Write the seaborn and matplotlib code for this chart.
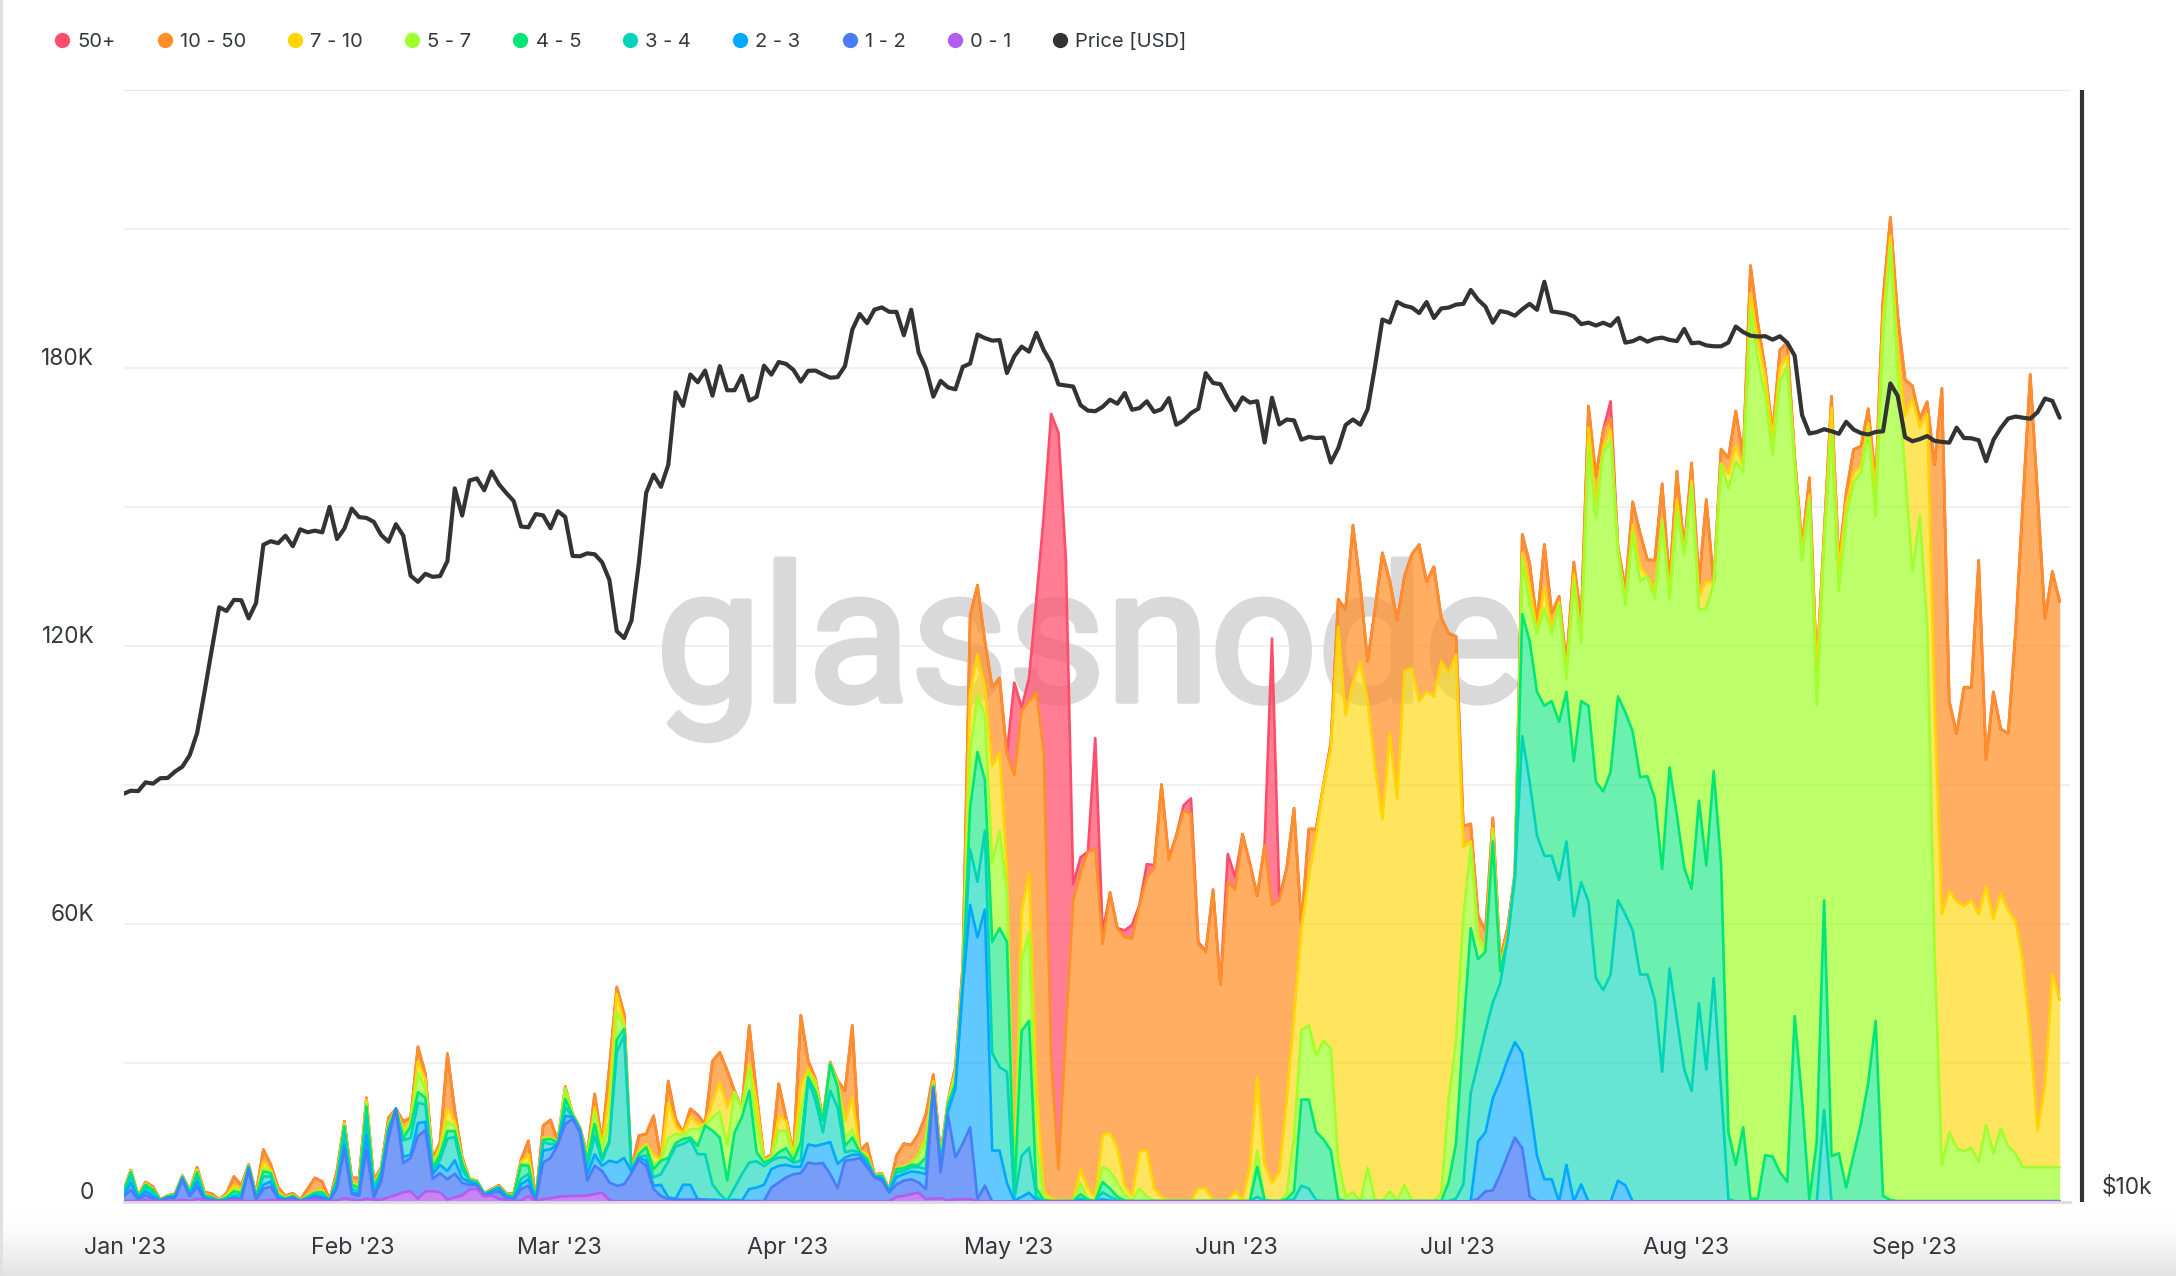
import numpy as np
import pandas as pd
import matplotlib
matplotlib.use("Agg")
import matplotlib.pyplot as plt
import matplotlib.dates as mdates
import matplotlib.patheffects as pe
from matplotlib.lines import Line2D
from matplotlib.transforms import ScaledTranslation
import seaborn as sns

# ---- data: stack tops in thousands (K), one value per day from 1 Jan 2023 ----
START_DATE = "2023-01-01"
LABELS = ["50+", "10 - 50", "7 - 10", "5 - 7", "4 - 5", "3 - 4", "2 - 3", "1 - 2", "0 - 1", "Price [USD]"]
COLORS = ["#ff4d6a", "#ff8f26", "#ffd500", "#a0ff2c", "#00e676", "#00d4b8", "#00a8ff", "#4a7cf7", "#b35cf0", "#333333"]
FILL_ALPHAS = [0.72, 0.72, 0.63, 0.70, 0.58, 0.60, 0.62, 0.75, 0.75]
MONTHS = ["Jan '23", "Feb '23", "Mar '23", "Apr '23", "May '23", "Jun '23", "Jul '23", "Aug '23", "Sep '23"]
MONTH_STARTS = ["2023-01-01", "2023-02-01", "2023-03-01", "2023-04-01", "2023-05-01", "2023-06-01", "2023-07-01", "2023-08-01", "2023-09-01"]
LEFT_TICKS = [0, 60, 120, 180]
LEFT_LABELS = ["0", "60K", "120K", "180K"]
GRID_TICKS = [30, 60, 90, 120, 150, 180, 210, 240]

top_0_1 = [0.1,0.1,0.1,0.4,0.1,0.1,0.1,0.1,0.4,0.1,
 0.6,0.3,0.1,0.1,0.1,0.4,0.2,0.1,0.1,0.2,
 0.4,0.2,0.1,0.2,0.1,0.2,0.4,0.2,0.1,0.2,
 0.7,0.4,0.2,0.6,0.4,0.4,0.9,1.4,2.0,2.2,
 0.6,2.2,2.2,2.0,0.4,0.9,1.3,2.6,2.7,1.1,
 1.3,0.6,0.3,0.2,
 0.2,1.2,0.1,0.5,0.7,1.0,1.1,1.2,1.2,1.3,1.6,1.9,0.3] + [0.0]*38 + [
 1.0,1.2,1.6,1.9,0.5,0.6,0.7,0.2,0.5,
 0.5,0.5,0.1] + [0.0]*147

top_1_2 = [1.0,2.5,0.4,1.4,0.6,0.1,0.7,0.7,4.7,1.1,
 3.2,0.4,0.3,0.1,0.2,0.6,0.4,6.8,0.3,2.7,
 3.2,0.6,0.3,0.7,0.1,0.4,0.9,0.6,0.1,2.9,
 11.2,1.6,1.2,11.2,0.9,4.3,13.7,20.0,8.3,9.4,
 14.1,15.4,4.9,6.1,4.8,6.0,4.0,3.6,3.5,1.3,
 1.8,2.2,0.7,0.4,
 2.7,3.4,0.1,8.4,9.4,12.3,16.7,17.8,14.9,4.5,7.7,6.6,4.1,3.4,3.7,6.1,9.0,7.7,2.7,1.2,
 0.5,0.4,0.4,0.4,0.4,0.4,0.1,0.1,0,0.1,0.1,0.1,0.1,0.1,3.0,4.1,5.2,5.9,6.1,8.4,
 8.1,8.3,5.9,2.9,8.8,9.0,9.4,7.4,5.2,4.5,1.9,3.7,4.5,4.8,4.1,2.7,24.3,6.3,18.5,9.5,
 12.5,16,0.5,3.4] + [0.0]*66 + [0.6,2.2,2.4,5.8,9.9,13.8,11.5,1.1] + [0.0]*72

top_2_3 = [1.3,4.0,0.7,2.2,1.2,0.2,0.9,1.0,4.9,1.4,
 4.3,0.7,0.4,0.1,0.4,0.9,0.7,7.2,0.6,3.6,
 4.3,0.9,0.4,0.9,0.1,0.6,1.3,1.0,0.2,3.6,
 12.3,2.0,1.6,14.4,1.4,5.4,14.8,20.0,9.6,10.1,
 16.9,17.2,5.9,7.9,6.6,8.9,5.0,4.2,3.7,1.4,
 2.2,2.9,1.1,0.6,
 3.7,4.8,0.2,11.0,11.3,12.4,18.5,18.2,15.3,5.9,10.2,7.7,8.8,8.4,9.4,6.5,9.5,8.8,3.4,3.6,
 0.9,0.6,3.6,3.6,0.5,0.4,0.4,0.3,0.1,0.4,0.2,2.7,3.0,3.6,7.0,7.7,7.9,7.5,7.5,12.3,
 12.0,12.4,12.8,8.1,9.5,10.1,10.1,8.1,5.3,5.0,2.2,5.3,5.9,6.5,6.3,5.9,24.5,7.2,19.5,24.3,
 46,64,57,63,11,11,4,0.2,1,1.9,0.3] + [0.0]*5 + [0.3,0,0,0.5,0.2] + [0.0]*48 + [0.1,
 13,14.9,22.3,26,30.6,34.4,32,21.3,9.9,4.8,4.8,0,7.9,0,3.7] + [0.0]*4 + [4.5,3.5] + [0.0]*59

top_3_4 = [1.6,5.4,0.9,3.0,1.9,0.2,1.0,1.2,5.2,1.8,
 5.4,1.0,0.7,0.2,0.6,1.4,1.3,7.5,0.9,5.4,
 5.4,1.2,0.6,1.0,0.2,0.9,1.7,1.6,0.2,4.3,
 14.8,2.7,2.2,18.0,2.2,6.1,15.5,20.0,13.2,13.7,
 21.3,20.9,6.5,9.0,13.6,13.9,6.8,4.5,4.0,1.6,
 2.3,3.0,1.3,0.9,
 4.9,5.9,0.3,12.8,12.4,12.5,20.3,18.4,15.5,7.4,14.2,8.8,12.8,32.2,35.8,6.6,9.7,9.9,5.2,5.9,
 8.7,11.9,12.4,13.3,10.2,10.2,3.7,1.6,0.1,3.0,5.9,8.4,8.7,7.6,8.8,9.5,9.5,8.4,8.8,26.3,
 21.8,14.9,23.9,20.3,10.6,11.0,10.6,8.8,5.4,5.4,2.3,6.3,6.6,7.4,7.4,7.0,24.7,7.9,20.2,24.9,
 47,76,69,80,32,29,28,0.5,9.8,11.6,1,0.2] + [0.1]*4 + [0.6,0.2,0.1,2,1,0.3] + [0.1]*18 + [1,0.1] + [0.1]*3 + [0.5,3.4,2.8,0.3] + [0.1]*18 + [0.6,3.7,
 23.4,30,36.8,43,47,56.5,70,100.4,90.6,79,74.6,74.6,69.4,77.7,61.6,68.9,64.7,48.2,45.6,49,65,62,58.5,49,49,43.5,28,50.3,39.4,28.5,23.9,42.8,28.5,48.2,24.4,
 0.5] + [0.0]*12 + [19.7] + [0.0]*32

top_4_5 = [1.9,6.3,1.0,3.6,2.5,0.3,1.1,1.4,5.3,2.0,
 6.3,1.3,0.9,0.2,0.9,2.2,1.8,7.6,1.1,6.5,
 6.1,1.4,0.6,1.2,0.2,1.0,1.9,2.0,0.3,5.0,
 16.2,3.6,2.9,20.5,2.9,6.6,16.2,20.0,13.7,16.2,
 23.6,22.4,7.2,10.1,15.2,15.2,8.3,4.6,4.3,1.7,
 2.4,3.1,1.4,1.2,
 7.9,7.7,0.4,13.3,13.5,12.7,22.1,18.6,15.7,8.8,16.7,9.5,13.1,34.9,37.3,6.8,10.2,11.7,7.0,8.8,
 9.4,12.6,13.5,13.8,12.0,16.4,15.3,13.8,4.5,14.9,18.2,23.9,10.6,8.4,9.1,10.6,11.5,8.8,12.8,26.8,
 23.6,17.4,29.7,24.7,12.0,13.8,10.7,9.2,5.5,5.6,2.4,7.0,7.2,7.9,7.9,9.5,24.9,8.5,20.9,25.6,
 47.5,85,97,91,56,59,56,1,36.8,39,2.8,0.3] + [0.1]*4 + [1.6,0.4,0.1,4.2,2.8,1,0.2] + [0.1]*17 + [
 7.5,0.3,0.1,0.1,0.5,2.2,22,22,15,13.4,11,0.5] + [0.1]*14 + [
 4.2,12.5,36.8,59,52.3,53.9,77.7,49.7,56.5,70.2,
 126.8,121,110,107,108,103.5,110,95,108,107,
 90.6,88.5,92.7,109,105.6,101.4,91.6,91.8,87,71.8,
 93.7,83.4,72,67.5,86.5,72.5,92.9,73,15,7.9,
 16,0.6,0.6,10,9.7,6.3,4.2,40,22,0.4,
 13,65,9.8,10.4,3,10,16.8,25.7,39,1.2,0.3] + [0.1]*23

top_5_7 = [2.0,6.5,1.1,3.7,2.6,0.3,1.2,1.4,5.4,2.2,
 6.6,1.4,0.9,0.2,1.1,2.7,2.2,7.7,1.2,7.2,
 6.5,1.7,0.7,1.2,0.2,1.2,2.0,2.2,0.3,5.2,
 16.6,3.7,3.2,21.3,3.2,6.8,16.6,20.0,14.8,16.9,
 27.8,24.5,7.8,11.2,17.3,16.2,8.7,4.6,4.4,1.7,
 2.5,3.2,1.5,1.3,
 8.1,8.3,0.4,13.5,13.6,12.8,24.3,18.7,15.8,9.4,19.3,11.3,17.3,40.9,37.6,6.8,10.7,12.0,8.1,8.9,
 13.7,14.6,14.4,15.6,15.6,16.5,18.2,19.3,12.0,23.6,20.2,29.0,16.6,8.7,9.4,15.3,15.3,9.4,19.5,27.9,
 25.0,17.6,29.8,25.2,13.8,15.6,10.8,9.5,5.6,5.8,2.5,7.1,7.4,8.2,9.9,13.1,25.2,9.0,21.3,26.7,
 48,97,109,105,73,80,67,1.5,52,58,13,1] + [0.1]*4 + [4,0.6,0.1,7.5,6.6,4,1.6,0.1,2.8,1,0.2] + [0.1]*13 + [
 11,0.3,0.1,0.1,1.6,14,37,38,31.5,34.7,33,8.7,1,2,0.1,7.3,0.3,0.1,2.2,0.1,3.5,0.2,0.1,0.1,0.1,1.7,
 22,34.7,61.6,76.6,57,54,79.7,50.3,56.5,70.5,
 138.7,129,122.6,128,122.6,128.9,112.8,134,120.6,163,
 147.5,161.6,164.5,140,128.8,144.3,133.8,134.9,130.2,146.8,
 129.9,149,139.6,154.7,127.7,128,133.5,159,153.9,159.8,
 157.4,192.6,181.8,173.8,161.2,177,180.3,158.7,138.2,151.5,
 107.2,141.4,166.6,131.7,147.9,155.1,157.3,166.6,147.9,186.8,
 206.3,178.9,157.3,136,148,124,54,7.9,15,11.6,
 10.8,11.6,8.6,16.5,10.4,15.7,11.9,10.4,7.4,7.4,7.4,7.4,7.4,7.4]

top_7_10 = [2.2,6.6,1.2,3.9,2.7,0.3,1.2,1.5,5.5,2.3,
 6.9,1.6,1.1,0.3,1.4,3.5,2.6,7.8,1.4,8.7,
 6.8,2.0,0.9,1.4,0.3,1.4,2.3,2.4,0.3,5.3,
 16.9,4.0,3.5,22.0,3.6,7.1,16.9,20.0,15.5,17.4,
 30.3,26.3,8.3,11.9,20.0,17.3,9.0,4.8,4.5,1.7,
 2.5,3.2,1.6,1.4,
 8.5,10.2,0.4,13.8,13.8,13.0,24.5,18.8,15.9,9.8,20.3,12.0,23.1,44.8,38.4,6.9,11.0,12.4,10.2,9.0,
 21.4,16.4,14.7,18.2,16.7,16.6,21.6,25.7,20.3,23.7,20.3,29.7,21.6,8.9,9.7,18.3,17.4,9.8,25.2,28.6,
 26.0,17.7,29.9,25.7,17.4,22.5,10.9,10.2,5.6,5.9,2.5,7.3,7.6,8.4,10.2,13.8,26.0,9.5,21.5,28.1,
 49,110,118,111,94,97,72,2,62.6,70.8,25,2.2,0.7,0.2,0.1,0.2,6.9,2.8,1,14.3,14.8,11.6,3.4,1.3,10.8,11,2.8,1,
 0.2,0.2,0.2,0.2,2.8,2.8,0.3,0.2,0.2,2.2,0.3,7.5,
 26.8,8,4,6.3,21.6,40,59,70,79,90,97.8,124,105,112,116.5,108,94,82.5,101,87,
 114.6,115,108,110,109,116.6,114,118,76.6,77.7,57.5,54,80.5,50.8,57.5,70.6,
 140,133,123,132.5,123.7,129.4,114,135.5,121,167,
 151,163,166.6,140.5,129.5,146,137,135,132,147.2,
 131.5,151.5,140,155.5,130.6,133.9,133.5,159.4,157,163,
 159,196,186,178,164.5,180,182.5,160,140,152.6,
 114,142.5,171.3,136,150.4,157.3,158.7,168,153,190,
 208.4,183.2,169.5,173.3,167,170,108,62,67,64.7,
 63.8,65,62,68,61,66.5,62.8,60.5,51.6,36,15.3,25,49,43.5]

top_10_50 = [2.4,6.8,1.3,4.2,3.2,0.4,1.3,1.7,5.6,2.5,
 7.4,2.0,1.7,0.4,1.8,5.4,3.5,8.0,1.7,11.2,
 8.0,3.0,1.2,1.8,0.4,2.7,5.1,4.3,0.4,6.7,
 17.3,5.1,5.1,22.4,4.5,7.4,18.1,20.0,17.3,18.1,
 33.4,27.6,9.2,12.8,31.9,19.7,9.6,4.9,4.5,1.8,
 2.7,3.5,1.8,1.7,
 9.0,13.1,0.5,16.4,17.6,13.1,24.8,18.9,16.0,10.2,23.2,12.8,29.0,46.3,40.5,7.0,14.2,14.6,18.5,9.2,
 26.0,17.8,14.9,20.0,18.7,16.7,30.3,32.2,28.3,23.9,20.3,38.0,23.2,9.2,10.1,25.4,18.2,10.2,40.2,30.4,
 26.5,17.8,30.1,26.1,23.9,38.0,11.0,12.5,5.8,6.1,2.7,9.9,12.5,12.2,14.6,18.9,27.4,10.2,21.8,29.0,
 51,126.5,133,121,111,113,96.6,92,106,108,110,97,31,6.9,36.8,65,71,75.5,76,55.6,
 66.7,59,57,56.7,64,70,72,90,73.7,79,84.3,83.7,55.6,53.8,67.3,46.8,69,67.3,79.3,73,
 66,77,64,65,72,84.9,59.5,80.4,80.4,90,99,130,127.7,146,133,116.5,128,140,134,125.5,
 135,139.7,141.8,133.8,137,126,122.6,122,81,81.5,61.6,58.5,82.8,52.3,59,71,
 144,137.8,124.8,141.8,127,130.6,116,138,125.5,171.7,
 156.5,166.6,169,141.4,132,151,144.3,138.5,138.4,154.9,
 133.5,157.6,140.7,159.4,133.5,151.5,133.5,162.4,160.5,170.6,
 160.8,202,189.7,179.6,165.9,183.8,185.4,160.9,141.4,156.2,
 114.7,144.3,173.8,137.8,152.9,162.3,163,171.1,155.1,194.7,
 212.4,191.1,177.4,176,169,172.6,159,175.5,108,101,
 111,111,138.4,95.4,110,102,101,123,151,178.5,152.5,125.8,136,129.5]

band_50_plus = [0.0]*121 + [20,0.6,5,20,51,139,159,102,3.5,3.3,0,24,2.4,0,0,1.5,3,0,2.8,0.6,0,0.5,0,1.2,3.3,0.3,0.3,0,0,6,2.7,0,0,0,0,57.5,0.5] + [0.0]*44 + [3.7] + [0.0]*61

price_usd = [16625,16688,16680,16863,16836,16951,16955,17091,17196,17446,17934,18869,19909,20976,20880,21169,21161,20688,21086,22676,22777,22720,22934,22636,23117,23032,23078,23031,23774,22840,23139,
 23723,23471,23449,23332,22955,22761,23264,22939,21819,21651,21870,21788,21808,22220,24327,23517,24569,24631,24271,24844,24450,24188,23947,23198,23175,23561,23522,23147,
 23646,23475,22362,22354,22435,22409,22190,21705,20363,20187,20632,22163,24197,24746,24375,25052,27423,26965,28038,27767,28175,27307,28333,27493,27494,27994,27139,27268,28348,28033,28478,
 28411,28200,27790,28168,28175,28044,27926,27948,28333,29653,30235,29892,30399,30485,30318,30315,29445,30397,28822,28245,27276,27817,27591,27525,28307,28423,29473,29340,29248,29268,
 28091,28680,29031,28848,29534,28904,28454,27694,27658,27621,26987,26804,26784,26931,27172,27036,27398,26833,26889,27118,26760,26851,27225,26334,26476,26719,26868,28085,27745,27702,27219,
 26819,27249,27075,27119,25760,27238,26345,26508,26480,25851,25940,25902,25918,25124,25576,26327,26510,26336,26851,28327,30027,29912,30695,30548,30480,30271,30689,30086,30445,30477,
 30590,30620,31156,30777,30514,29909,30346,30292,30171,30414,30620,30392,31476,30334,30295,30249,30145,29857,29912,29803,29908,29793,30083,29176,29228,29354,29210,29319,29357,29275,29230,
 29676,29152,29179,29075,29043,29041,29180,29766,29561,29429,29397,29412,29283,29408,29170,28701,26664,26049,26096,26189,26124,26040,26432,26180,26063,26017,26101,26120,27727,27297,25931,
 25800,25868,25969,25813,25779,25753,26241,25905,25895,25832,25163,25844,26227,26539,26608,26568,26534,26754,27211,27132,26567]

# ---- checks ----
names = ["top_0_1", "top_1_2", "top_2_3", "top_3_4", "top_4_5", "top_5_7", "top_7_10", "top_10_50", "band_50_plus", "price_usd"]
lens = {n: len(globals()[n]) for n in names}
if len(set(lens.values())) != 1:
    raise ValueError(str(lens))

dates = pd.date_range(START_DATE, periods=len(price_usd))
stack = np.array([top_0_1, top_1_2, top_2_3, top_3_4, top_4_5, top_5_7, top_7_10, top_10_50], dtype=float)
stack = np.maximum.accumulate(stack, axis=0)
tops = np.vstack([stack, stack[-1] + np.array(band_50_plus, dtype=float)])  # bottom -> top

# ---- figure ----
sns.set_theme(style="white")
plt.rcParams["font.family"] = ["Inter", "DejaVu Sans"]
W, H = 2176, 1276
fig = plt.figure(figsize=(W / 100, H / 100), dpi=100, facecolor="white")

# page background: soft grey fade below the plot, thin rule at the left edge
bg = fig.add_axes([0, 0, 1, 1], zorder=-5)
grad = np.ones((H, W))
row = np.arange(H)
grad[row >= 1205, :] = (1 - 0.115 * ((row[row >= 1205] - 1205) / (H - 1205)) ** 1.6)[:, None]
grad[:, :3] = 0.88
bg.imshow(grad, cmap="gray", vmin=0, vmax=1, aspect="auto", extent=(0, 1, 0, 1), interpolation="nearest")
bg.axis("off")

L, R, T, B = 123.5, 2070, 89.5, 1201.5
ax = fig.add_axes([L / W, (H - B) / H, (R - L) / W, (B - T) / H], zorder=1)
ax.patch.set_alpha(0)
x0 = mdates.date2num(dates[0])
ax.set_xlim(x0, x0 + 264.4)
ax.set_ylim(0, 240)

for g in GRID_TICKS:
    ax.axhline(g, color="#e6e6e6" if g == 240 else "#f0f0f0", lw=1.5, zorder=0.5)

ax.text(1090, H - 701, "glassnode", transform=None, fontsize=136, family="Roboto",
        color="#d9d9d9", ha="center", va="baseline", zorder=0.7,
        path_effects=[pe.withStroke(linewidth=4, foreground="#d9d9d9")])

xs = mdates.date2num(dates)
layer_colors = COLORS[:9][::-1]  # purple (bottom) ... red (top)
layer_alphas = FILL_ALPHAS[::-1]
for i in range(8, -1, -1):
    low = tops[i - 1] if i > 0 else np.zeros(len(xs))
    ax.fill_between(xs, low, tops[i], color=layer_colors[i], alpha=layer_alphas[i], lw=0, zorder=1 + (8 - i) * 0.01)
for i in range(8, -1, -1):
    sns.lineplot(x=dates, y=tops[i], ax=ax, color=layer_colors[i], lw=1.9, estimator=None,
                 errorbar=None, zorder=2 + (8 - i) * 0.01, legend=False)
ax.set_ylabel("")
ax.set_xlabel("")
ax.set_xlim(x0, x0 + 264.4)
ax.set_ylim(0, 240)

ax.set_yticks(LEFT_TICKS)
ax.set_yticklabels(LEFT_LABELS, fontsize=16.3, color="#34373d", va="bottom")
ax.tick_params(axis="y", length=0, pad=21)
ax.set_xticks(mdates.date2num(pd.to_datetime(MONTH_STARTS)))
ax.set_xticklabels(MONTHS, fontsize=16.8, color="#34373d")
ax.tick_params(axis="x", length=15, width=1.3, color="#ececec", pad=10.5)
for lab in ax.get_yticklabels():
    lab.set_transform(lab.get_transform() + ScaledTranslation(0, -1.5 / 72, fig.dpi_scale_trans))
for lab in ax.get_xticklabels():
    lab.set_transform(lab.get_transform() + ScaledTranslation(1 / 72, 0, fig.dpi_scale_trans))
for s in ["top", "left", "right"]:
    ax.spines[s].set_visible(False)
ax.spines["bottom"].set_color("#dcdcdc")
ax.spines["bottom"].set_linewidth(2.0)
ax.grid(False)

# price on a log axis at the right
ax2 = ax.twinx()
ax2.patch.set_alpha(0)
ax2.set_yscale("log")
sns.lineplot(x=dates, y=price_usd, ax=ax2, color=COLORS[9], lw=3.0, estimator=None,
             errorbar=None, legend=False, zorder=5)
ax2.set_xlim(x0, x0 + 264.4)
ax2.set_ylim(10000, 40000)
ax2.set_ylabel("")
ax2.set_yticks([10000])
ax2.set_yticklabels([""])
ax2.minorticks_off()
ax2.tick_params(axis="y", which="both", length=0, labelright=False)
ax2.annotate("$10k", xy=(1, 10000), xycoords=("axes fraction", "data"), xytext=(23, 2),
             textcoords="offset points", ha="left", va="bottom", fontsize=16.3, color="#34373d",
             annotation_clip=False)
ax2.grid(False)
for s in ["top", "left", "bottom"]:
    ax2.spines[s].set_visible(False)
ax2.spines["right"].set_position(("outward", 8.6))
ax2.spines["right"].set_color("#333333")
ax2.spines["right"].set_linewidth(3.0)
ax2.spines["right"].set_capstyle("butt")

handles = [Line2D([], [], ls="", marker="o", ms=11, mfc=c, mec=c, mew=0) for c in COLORS]
fig.legend(handles, LABELS, loc="upper left", bbox_to_anchor=(50 / W, 1 - 32.5 / H), bbox_transform=fig.transFigure,
           ncol=10, frameon=False, fontsize=14.5, labelcolor="#34373d", handletextpad=0.15,
           columnspacing=1.84, borderpad=0, borderaxespad=0, handlelength=1.2)

fig.savefig("out.png", dpi=100, facecolor="white")
